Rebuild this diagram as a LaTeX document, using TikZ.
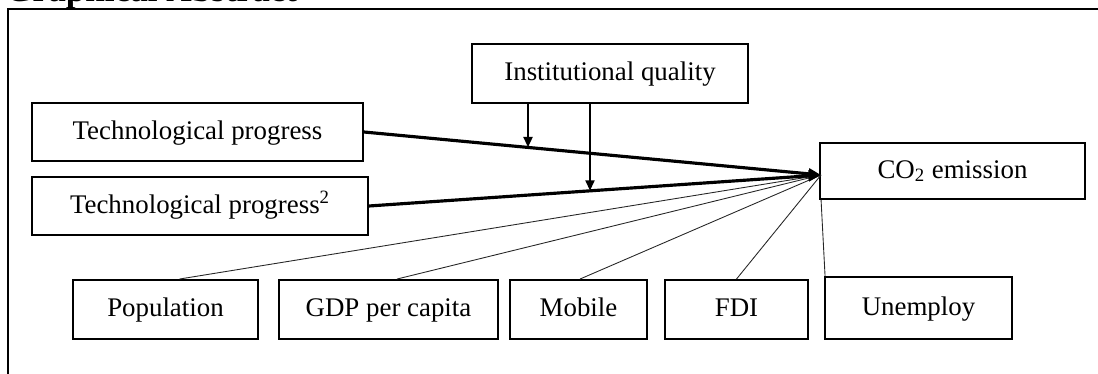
\documentclass[tikz,border=0pt]{standalone}
\usepackage{fontspec}
\setmainfont{Liberation Serif}
\usepackage{tikz}
\usetikzlibrary{arrows.meta}

\begin{document}
\begin{tikzpicture}[x=0.02cm, y=-0.02cm,
  varbox/.style={draw, line width=1.1pt, inner sep=0pt, text height=11pt, text depth=3pt,
    font=\fontsize{15.3}{18}\selectfont},
  effect/.style={line width=1.8pt, -{Triangle[length=7pt,width=6pt]}},
  modarrow/.style={line width=1.6pt, -{Triangle[length=6pt,width=5pt]}},
  link/.style={line width=0.5pt, black!85}]
\useasboundingbox (0,0) rectangle (1098,374);
% frame and cut-off title
\node[anchor=base west, inner sep=0pt, font=\fontsize{20}{24}\selectfont\bfseries] (title) at (5,2) {Graphical Abstract};
\draw[line width=1.2pt] (8,400) -- (8,9) -- (1110,9);

% variables
\node[varbox, minimum width=5.52cm, minimum height=1.18cm] (iq) at (610,73.5) {Institutional quality};
\node[varbox, minimum width=6.62cm, minimum height=1.16cm] (tp) at (197.5,132) {Technological progress};
\node[varbox, minimum width=6.72cm, minimum height=1.16cm] (tp2) at (200,206) {Technological progress\textsuperscript{2}};
\node[varbox, minimum width=5.30cm, minimum height=1.12cm] (co2) at (952.5,171) {CO\textsubscript{2} emission};
\node[varbox, minimum width=3.70cm, minimum height=1.18cm] (pop) at (165.5,309.5) {Population};
\node[varbox, minimum width=4.38cm, minimum height=1.18cm] (gdp) at (388.5,309.5) {GDP per capita};
\node[varbox, minimum width=2.74cm, minimum height=1.18cm] (mob) at (578.5,309.5) {Mobile};
\node[varbox, minimum width=2.86cm, minimum height=1.18cm] (fdi) at (736.5,309.5) {FDI};
\node[varbox, minimum width=3.74cm, minimum height=1.24cm] (unemp) at (918.5,308) {Unemploy};

\coordinate (tip) at (821,175);

% controls
\draw[link] (tip) -- ([xshift=0.28cm]pop.north);
\draw[link] (tip) -- ([xshift=0.17cm]gdp.north);
\draw[link] (tip) -- ([xshift=0.03cm]mob.north);
\draw[link] (tip) -- (fdi.north);
\draw[link] ([xshift=0.04cm]co2.south west) -- ([xshift=0.02cm]unemp.north west);

% main effects
\draw[effect] (tp.east) -- coordinate[pos=0.359] (m1) (tip);
\draw[effect] (tp2.east) -- coordinate[pos=0.489] (m2) (tip);

% moderation
\draw[modarrow] (iq.south -| m1) -- (m1);
\draw[modarrow] (iq.south -| m2) -- (m2);
\end{tikzpicture}
\end{document}
